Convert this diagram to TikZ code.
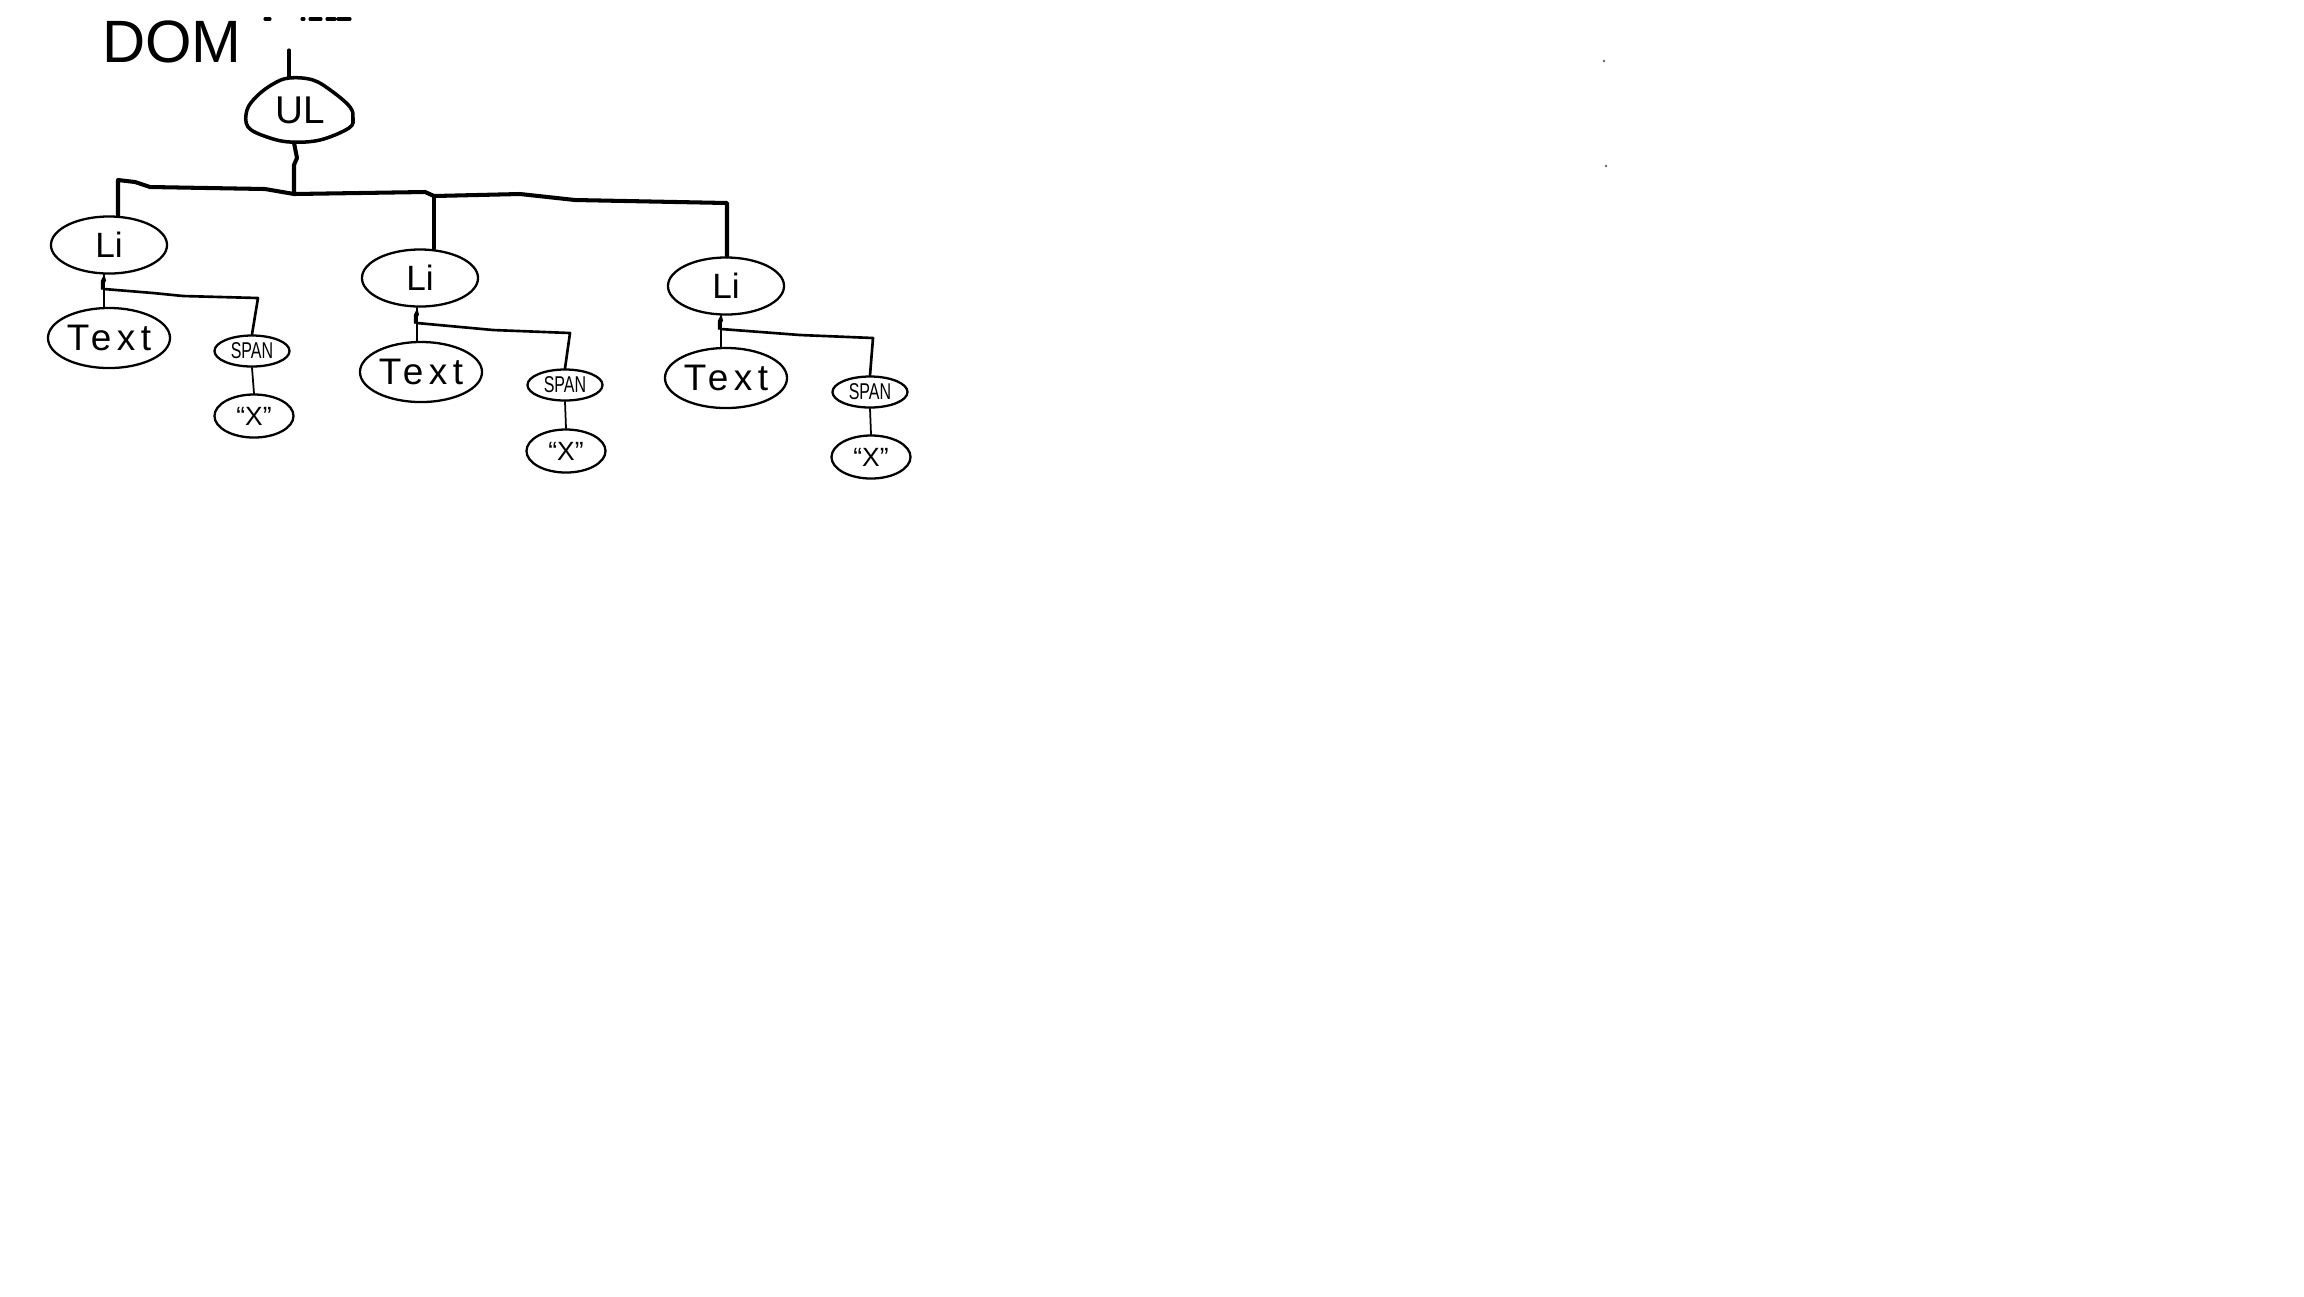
\documentclass[tikz,border=0pt]{standalone}
\usepackage{fontspec}
\setmainfont{Liberation Sans}
\newfontfamily\spaced{Liberation Sans}[LetterSpace=15]
\usetikzlibrary{shapes.geometric,calc}

\begin{document}
\begin{tikzpicture}[x=0.01cm,y=-0.01cm,
  ink/.style={black,line cap=round,line join=round},
  bus/.style={ink,line width=1.15pt},
  twig/.style={ink,line width=0.75pt},
  hair/.style={ink,line width=0.35pt},
  stem/.style={ink,line width=0.5pt},
  bubble/.style={ellipse,draw,ink,line width=0.65pt,inner sep=0pt},
  libox/.style={bubble,minimum width=1.16cm,minimum height=0.57cm,font=\fontsize{10}{10}\selectfont},
  txtbox/.style={bubble,inner xsep=-3pt,minimum width=1.22cm,minimum height=0.60cm,font=\fontsize{10.5}{10.5}\selectfont\spaced},
  spanbox/.style={bubble,minimum width=0.75cm,minimum height=0.31cm,font=\fontsize{6.5}{6.5}\selectfont},
  xbox/.style={bubble,minimum width=0.79cm,minimum height=0.43cm,font=\fontsize{7.5}{7.5}\selectfont},
]
\useasboundingbox[fill=white] (0,0) rectangle (2304,1296);

% heading and the dashes beside it
\node[font=\fontsize{17}{17}\selectfont] (dom) at (172,42) {DOM};
\draw[ink,line width=0.9pt] (265,19) -- (270,19) (302,19) -- (304,19) (310,19) -- (321,19)
  (327,19) -- (335,19) (338,19) -- (350,19);

% root list element with its onion-shaped outline
\node[ellipse,inner sep=0pt,minimum width=1.07cm,minimum height=0.64cm,
      font=\fontsize{11}{11}\selectfont] (ul) at (300,110) {UL};
\draw[ink,line width=1pt] plot[smooth cycle,tension=0.6] coordinates
  {(289,78) (313,80) (333,92) (350,107) (353,118) (349,128) (320,140) (290,142)
   (267,137) (248,127) (247,110) (257,96) (273,84)};
\coordinate (top) at (289,50);
\draw[ink,line width=0.9pt] (top) -- (top |- ul.north);

% list items
\node[libox] (li1) at (109,245) {Li};
\node[libox] (li2) at (420,278) {Li};
\node[libox] (li3) at (726,286) {Li};

% bus from the root to the items
\coordinate (hub) at (294,194);
\coordinate (c1) at (118,180);
\coordinate (j2) at (434,196);
\coordinate (j3) at (727,203);
\draw[bus] (hub |- ul.south) -- (297,158) -- (294,165) -- (hub);
\draw[bus] (c1 |- li1.north) -- (c1) -- (135,182) -- (150,187) -- (265,189) -- (hub)
  -- (425,192) -- (j2) -- (520,194) -- (575,200) -- (j3) -- (j3 |- li3.north);
\draw[bus] (j2) -- (j2 |- li2.north);

% children of each item
\node[txtbox] (t1) at (109,338) {Text};
\node[spanbox] (s1) at (252,351) {\scalebox{0.7}[1]{SPAN}};
\node[xbox] (x1) at (254,416) {``X''};

\node[txtbox] (t2) at (421,372) {Text};
\node[spanbox] (s2) at (565,385) {\scalebox{0.7}[1]{SPAN}};
\node[xbox] (x2) at (566,451) {``X''};

\node[txtbox] (t3) at (726,378) {Text};
\node[spanbox] (s3) at (870,392) {\scalebox{0.7}[1]{SPAN}};
\node[xbox] (x3) at (871,457) {``X''};

\coordinate (k1) at (104,289); \coordinate (e1) at (258,298);
\coordinate (k2) at (417,323); \coordinate (e2) at (570,333);
\coordinate (k3) at (721,329); \coordinate (e3) at (873,338);

% item 1
\draw[hair] (li1.south -| k1) -- (k1) -- (k1 |- t1.north);
\draw[hair,line width=0.6pt] (k1) ++(-2,0) -- ++(0,-8) -- ++(2,-4) -- ++(1,4);
\draw[twig] (k1) -- (153,293) -- (183,296) -- (e1) -- (s1.north);
\draw[stem] (s1.south) -- (x1.north);

% item 2
\draw[hair] (li2.south -| k2) -- (k2) -- (k2 |- t2.north);
\draw[hair,line width=0.6pt] (k2) ++(-2,0) -- ++(0,-8) -- ++(2,-4) -- ++(1,4);
\draw[twig] (k2) -- (493,330) -- (e2) -- (s2.north);
\draw[stem] (s2.south) -- (x2.north);

% item 3
\draw[hair] (li3.south -| k3) -- (k3) -- (k3 |- t3.north);
\draw[hair,line width=0.6pt] (k3) ++(-2,0) -- ++(0,-8) -- ++(2,-4) -- ++(1,4);
\draw[twig] (k3) -- (800,335) -- (e3) -- (s3.north);
\draw[stem] (s3.south) -- (x3.north);

% two stray specks on the right
\fill[black!60] (1604,61) circle[radius=0.4pt];
\fill[black!60] (1606,166) circle[radius=0.4pt];
\end{tikzpicture}
\end{document}
